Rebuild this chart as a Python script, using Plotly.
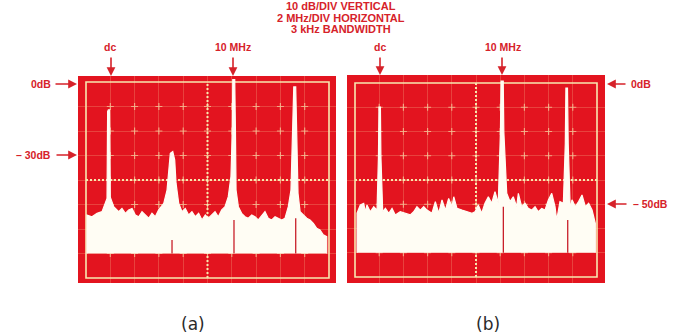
import plotly.graph_objects as go

W, H = 681, 334

# ---------------- data ----------------
# Panel (a): frequency in MHz, level in dB
A_FREQ = [-1.92, -1.51, -1.09, -0.68, -0.41, -0.27, -0.22, -0.16, -0.06, 0.0, 0.28, 0.69, 0.96,
          1.24, 1.51, 1.79, 2.06, 2.34, 2.61, 2.88, 3.16, 3.43, 3.70, 3.98, 4.40, 4.67, 4.81,
          4.94, 5.14, 5.30, 5.41, 5.63, 5.90, 6.17, 6.45, 6.72, 7.00, 7.27, 7.55, 7.82, 8.07,
          8.35, 8.62, 8.89, 9.17, 9.44, 9.71, 9.93, 10.04, 10.08, 10.24, 10.30, 10.35, 10.54,
          10.81, 11.09, 11.36, 11.64, 11.91, 12.18, 12.46, 12.73, 13.00, 13.28, 13.56, 13.83,
          14.11, 14.38, 14.65, 14.87, 15.01, 15.10, 15.26, 15.36, 15.45, 15.62, 15.89, 16.17,
          16.44, 16.71, 16.99, 17.26, 17.53, 17.81]
A_DB = [-54.3, -55.0, -53.6, -52.9, -48.8, -47.5, -12.0, -11.4, -11.4, -47.0, -50.9, -52.9, -51.6,
        -53.6, -52.2, -51.6, -54.3, -55.0, -52.9, -54.3, -55.6, -53.6, -55.0, -52.2, -49.5, -44.1,
        -34.6, -29.1, -28.4, -31.8, -41.3, -49.5, -52.9, -51.6, -54.3, -52.9, -55.0, -53.6, -56.3,
        -54.3, -55.6, -54.3, -52.9, -55.0, -52.2, -50.9, -46.8, -38.6, -20.0, 1.0, 1.0, -20.0,
        -44.1, -50.9, -53.6, -55.0, -55.6, -54.3, -55.0, -56.3, -54.3, -52.9, -55.6, -56.3, -55.0,
        -55.6, -56.3, -55.6, -50.9, -44.1, -20.0, -2.0, -2.0, -30.0, -45.4, -52.9, -54.3, -55.6,
        -56.3, -57.7, -59.7, -60.4, -62.4, -63.1]

# Panel (b)
B_FREQ = [-1.83, -1.56, -1.28, -1.15, -1.01, -0.74, -0.45, -0.18, -0.06, -0.02, 0.10, 0.14,
          0.29, 0.51, 0.79, 1.06, 1.33, 1.74, 2.16, 2.57, 2.85, 3.12, 3.40, 3.68, 3.95, 4.36,
          4.64, 4.92, 5.19, 5.47, 5.74, 6.02, 6.16, 6.43, 6.84, 7.26, 7.67, 7.92, 8.19, 8.47,
          8.74, 9.02, 9.30, 9.57, 9.84, 10.02, 10.07, 10.25, 10.30, 10.54, 10.81, 11.08, 11.36,
          11.50, 11.77, 12.05, 12.32, 12.60, 12.88, 13.15, 13.43, 13.70, 13.98, 14.26, 14.53,
          14.67, 14.94, 15.22, 15.38, 15.43, 15.56, 15.62, 15.79, 15.93, 16.21, 16.48, 16.76,
          17.04, 17.31, 17.59, 17.86]
B_DB = [-53.7, -50.3, -49.6, -53.1, -50.3, -53.1, -51.0, -52.4, -30.0, -9.9, -9.9, -30.0,
        -53.1, -51.7, -53.7, -51.7, -54.4, -53.1, -53.7, -54.4, -53.1, -51.0, -52.4, -51.0, -52.4,
        -53.7, -48.9, -53.7, -48.2, -52.4, -47.6, -51.0, -46.9, -51.7, -52.4, -53.1, -53.7, -53.1,
        -50.3, -53.7, -49.6, -46.9, -49.6, -44.8, -49.6, -20.0, 0.8, 0.8, -20.0, -45.5, -48.9,
        -46.9, -51.0, -45.5, -51.0, -49.6, -51.7, -52.4, -51.0, -53.1, -51.7, -52.4, -48.2, -45.5,
        -51.0, -56.5, -48.9, -49.6, -25.0, -2.1, -2.1, -25.0, -52.4, -48.2, -51.0, -48.9, -46.2,
        -51.0, -49.6, -52.4, -57.9]

BASELINE_DB = -70

# dark gaps inside the white fill below the strong lines
A_GAP_FREQ = [5.08, 10.18, 15.26]
A_GAP_TOP = [-64.5, -56.3, -55.6]
B_GAP_FREQ = [10.26, 15.58]
B_GAP_TOP = [-51.0, -56.5]

# graticule: 10 horizontal divisions of 2 MHz, 8 vertical divisions of 10 dB
X_DIVS = [-2, 0, 2, 4, 6, 8, 10, 12, 14, 16, 18]
Y_DIVS = [0, -10, -20, -30, -40, -50, -60, -70, -80]

TITLE_LINES = ["10 dB/DIV VERTICAL", "2 MHz/DIV HORIZONTAL", "3 kHz BANDWIDTH"]
PANEL_LABELS = ["(a)", "(b)"]

# ---------------- styling ----------------
RED = "#e3141f"
TXT_RED = "#d6222a"
CREAM = "#f8e8b0"
FILL = "#fffdf4"
GRID_FAINT = "rgba(250,232,170,0.22)"

# pixel geometry of panels: red screen box and graticule box (left, right, top, bottom)
PANELS = [
    dict(red=(78, 336, 76, 283), grat=(86, 329, 82, 278)),
    dict(red=(347, 605, 75, 283), grat=(355, 597, 83, 277)),
]

fig = go.Figure()
layout_axes = {}
shapes = []

datasets = [(A_FREQ, A_DB, A_GAP_FREQ, A_GAP_TOP), (B_FREQ, B_DB, B_GAP_FREQ, B_GAP_TOP)]

for i, (pan, (fq, db, gf, gt)) in enumerate(zip(PANELS, datasets)):
    rl, rr, rt, rb = pan["red"]
    gl, gr, gtp, gb = pan["grat"]
    xmin, xmax = X_DIVS[0], X_DIVS[-1]
    ymax, ymin = Y_DIVS[0], Y_DIVS[-1]
    pxx = (gr - gl) / (xmax - xmin)
    pxy = (gb - gtp) / (ymax - ymin)
    xr = [xmin - (gl - rl) / pxx, xmax + (rr - gr) / pxx]
    yr = [ymin - (rb - gb) / pxy, ymax + (gtp - rt) / pxy]
    sx = "" if i == 0 else str(i + 1)
    xa, ya = "x" + sx, "y" + sx
    layout_axes["xaxis" + sx] = dict(domain=[rl / W, rr / W], range=xr, anchor=ya,
                                     showgrid=True, gridcolor=GRID_FAINT, gridwidth=1,
                                     tickmode="array", tickvals=X_DIVS[1:-1],
                                     showticklabels=False, ticks="", zeroline=False,
                                     showline=False, fixedrange=True)
    layout_axes["yaxis" + sx] = dict(domain=[1 - rb / H, 1 - rt / H], range=yr, anchor=xa,
                                     showgrid=True, gridcolor=GRID_FAINT, gridwidth=1,
                                     tickmode="array", tickvals=Y_DIVS[1:-1],
                                     showticklabels=False, ticks="", zeroline=False,
                                     showline=False, fixedrange=True)

    # small crosses at graticule intersections
    cx, cy = [], []
    for xv in X_DIVS[1:-1]:
        for yv in Y_DIVS[1:-1]:
            cx.append(xv)
            cy.append(yv)
    fig.add_trace(go.Scatter(x=cx, y=cy, xaxis=xa, yaxis=ya, mode="markers",
                             marker=dict(symbol="cross-thin", size=5,
                                         line=dict(color="rgba(250,235,180,0.6)", width=1.2)),
                             hoverinfo="skip"))

    # center dotted lines
    xc = X_DIVS[len(X_DIVS) // 2]
    yc = Y_DIVS[len(Y_DIVS) // 2]
    shapes.append(dict(type="line", xref=xa, yref=ya, x0=xc, x1=xc, y0=ymin, y1=ymax,
                       line=dict(color=CREAM, width=2, dash="2px,2px"), layer="below"))
    shapes.append(dict(type="line", xref=xa, yref=ya, x0=xmin, x1=xmax, y0=yc, y1=yc,
                       line=dict(color=CREAM, width=2, dash="2px,2px"), layer="below"))
    # outer graticule border
    shapes.append(dict(type="rect", xref=xa, yref=ya, x0=xmin, x1=xmax, y0=ymin, y1=ymax,
                       line=dict(color=CREAM, width=1.6), fillcolor="rgba(0,0,0,0)",
                       layer="below"))

    # filled spectrum trace (closed down to baseline)
    px_ = [fq[0]] + list(fq) + [fq[-1]]
    py_ = [BASELINE_DB] + list(db) + [BASELINE_DB]
    fig.add_trace(go.Scatter(x=px_, y=py_, xaxis=xa, yaxis=ya, mode="lines",
                             fill="toself", fillcolor=FILL,
                             line=dict(color=FILL, width=1.2), hoverinfo="skip"))

    # dark gaps inside the fill
    for f, t in zip(gf, gt):
        fig.add_trace(go.Scatter(x=[f, f], y=[BASELINE_DB, t], xaxis=xa, yaxis=ya,
                                 mode="lines", line=dict(color="#c8202a", width=1.3),
                                 hoverinfo="skip"))

annotations = []


def P(xp, yp):
    return xp / W, 1 - yp / H


def label(txt, xp, yp, size=10.5, color=TXT_RED, bold=True, family="Liberation Sans, Arial"):
    x, y = P(xp, yp)
    annotations.append(dict(text=("<b>%s</b>" % txt) if bold else txt, x=x, y=y,
                            xref="paper", yref="paper", showarrow=False,
                            font=dict(family=family, size=size, color=color),
                            xanchor="center", yanchor="middle"))


def arrow(hx, hy, tx, ty):
    x, y = P(hx, hy)
    annotations.append(dict(text="", x=x, y=y, xref="paper", yref="paper", showarrow=True,
                            ax=tx - hx, ay=ty - hy, axref="pixel", ayref="pixel",
                            arrowhead=2, arrowsize=1.1, arrowwidth=1.6, arrowcolor=TXT_RED,
                            standoff=0, startstandoff=0))


# title
for txt, yp in zip(TITLE_LINES, [6, 17.5, 29]):
    label(txt, 341, yp, size=11)

# frequency markers
label("dc", 110, 47)
arrow(111, 76, 111, 56)
label("10 MHz", 233, 47)
arrow(233, 76, 233, 56)
label("dc", 380, 47)
arrow(380, 75, 380, 56)
label("10 MHz", 503, 47)
arrow(502, 75, 502, 56)

# level markers
label("0dB", 41, 84)
arrow(77, 84, 54, 84)
label("– 30dB", 33, 155)
arrow(77, 155, 55, 155)
label("0dB", 641, 84)
arrow(607, 84, 627, 84)
label("– 50dB", 650, 204)
arrow(607, 204, 628, 204)

# panel labels
label(PANEL_LABELS[0], 193, 324, size=17, color="#2a2a2a", bold=False, family="DejaVu Sans")
label(PANEL_LABELS[1], 488, 324, size=17, color="#2a2a2a", bold=False, family="DejaVu Sans")

fig.update_layout(width=W, height=H, margin=dict(l=0, r=0, t=0, b=0),
                  paper_bgcolor="white", plot_bgcolor=RED, showlegend=False,
                  hovermode=False, shapes=shapes, annotations=annotations, **layout_axes)

fig.write_html("out.html", config={"displayModeBar": False},
               post_script="document.body.style.margin='0';document.body.style.overflow='hidden';")
